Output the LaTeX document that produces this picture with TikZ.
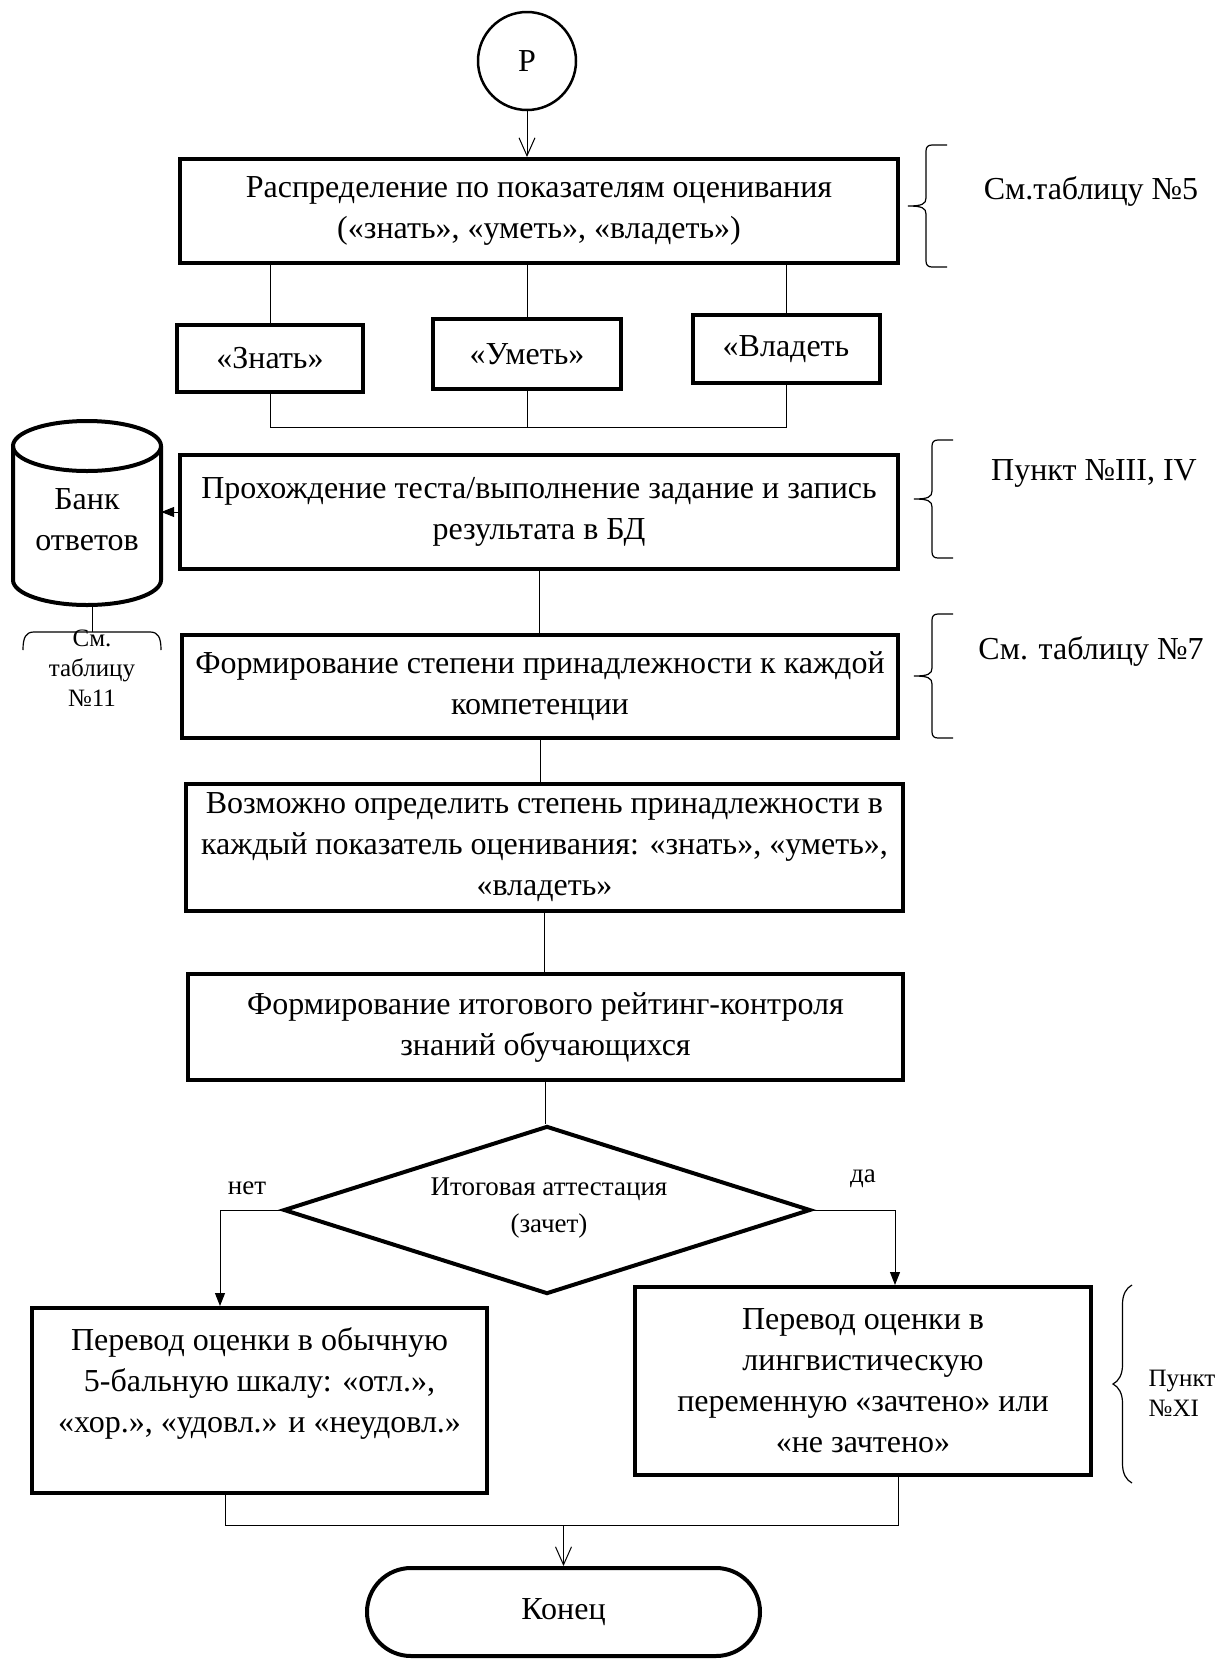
\documentclass[tikz,border=0pt]{standalone}
\usepackage{fontspec}
\setmainfont{Liberation Serif}
\usetikzlibrary{arrows.meta,shapes.geometric,shapes.misc,decorations.pathreplacing}
\newcommand\mainfs{\fontsize{32}{41}\selectfont}
\newcommand\smallfs{\fontsize{27}{37}\selectfont}
\newcommand\tinyfs{\fontsize{25}{30}\selectfont}
% hooked brace: #1 right x, #2 top y, #3 bottom y
\newcommand\hbr[3]{\pgfmathsetmacro\mY{(#2+#3)/2}%
\draw[line width=1.2pt] (#1,#2) -- (#1-15,#2) .. controls (#1-19,#2) and (#1-21,#2+2) .. (#1-21,#2+6) -- (#1-21,\mY-8) .. controls (#1-21,\mY-2) and (#1-25,\mY) .. (#1-39,\mY) .. controls (#1-25,\mY) and (#1-21,\mY+2) .. (#1-21,\mY+8) -- (#1-21,#3-6) .. controls (#1-21,#3-2) and (#1-19,#3) .. (#1-15,#3) -- (#1,#3);}
\begin{document}
\begin{tikzpicture}[x=1pt,y=-1pt,
  box/.style={draw,line width=4pt,inner sep=0pt,align=center,font=\mainfs},
  conn/.style={line width=1pt},
  openarr/.style={conn,-{Straight Barb[length=18pt,width=16pt,line width=1pt]}},
  fillarr/.style={conn,-{Triangle[length=13pt,width=10pt]}},
  brc/.style={decorate,decoration={brace,amplitude=19pt},line width=1.2pt},
  lbl/.style={font=\mainfs,inner sep=0pt}]
\useasboundingbox (0,0) rectangle (1219,1660);
% start
\node[circle,draw,line width=2.5pt,minimum size=98pt,inner sep=0pt,font=\mainfs] (p) at (527,61) {P};
% box 1
\node[box,minimum width=718pt,minimum height=104pt] (b1) at (539,211) {Распределение по показателям оценивания\\(«знать», «уметь», «владеть»)};
\draw[openarr] (p.south) -- (p.south |- b1.north);
% sub boxes
\node[box,minimum width=186pt,minimum height=67pt] (zn) at (270,358) {«Знать»};
\node[box,minimum width=188pt,minimum height=70pt] (um) at (527,354) {«Уметь»};
\node[box,minimum width=187pt,minimum height=68pt] (vl) at (786,349) {«Владеть};
\draw[conn] (b1.south -| zn.north) -- (zn.north);
\draw[conn] (b1.south -| um.north) -- (um.north);
\draw[conn] (b1.south -| vl.north) -- (vl.north);
\coordinate (jy) at (0,427);
\draw[conn] (zn.south) -- (zn.south |- jy) -- (vl.south |- jy) -- (vl.south);
\draw[conn] (um.south) -- (um.south |- jy);
% box 3
\node[box,minimum width=718pt,minimum height=114pt] (b3) at (539,512) {Прохождение теста/выполнение задание и запись\\результата в БД};
% bank (cylinder)
\node[minimum width=148pt,minimum height=184pt,inner sep=0pt] (bank) at (87,513) {};
\draw[line width=4pt] (13,446) -- (13,580) arc[start angle=180,end angle=0,x radius=74,y radius=25] -- (161,446);
\draw[line width=4pt] (87,446) ellipse[x radius=74,y radius=25];
\node[font=\mainfs,align=center,inner sep=0pt] (banktxt) at (87,520) {Банк\\ответов};
\draw[fillarr] (b3.west) -- (bank.east |- b3.west);
% bracket under bank
\draw[line width=1.2pt] (23,650) .. controls (23,637) and (26,632) .. (34,632) -- (150,632) .. controls (158,632) and (161,637) .. (161,650);
\draw[conn] ([xshift=5pt]bank.south) -- ++(0,27);
\node[font=\tinyfs,align=center,inner sep=0pt] (t11) at (92,668) {См.\\таблицу\\№11};
% box 4
\node[box,minimum width=716pt,minimum height=103pt] (b4) at (540,686) {Формирование степени принадлежности к каждой\\компетенции};
% box 5
\node[box,minimum width=717pt,minimum height=127pt] (b5) at (544.5,847.5) {Возможно определить степень принадлежности в\\каждый показатель оценивания: «знать», «уметь»,\\«владеть»};
% box 6
\node[box,minimum width=715pt,minimum height=106pt] (b6) at (545.5,1027) {Формирование итогового рейтинг-контроля\\знаний обучающихся};
\draw[conn] (b3.south) -- (b3.south |- b4.north);
\draw[conn] (b4.south) -- (b4.south |- b5.north);
\draw[conn] (b5.south) -- (b5.south |- b6.north);
% decision
\node[diamond,draw,line width=4pt,minimum width=527pt,minimum height=168pt,inner sep=0pt,aspect=3.14] (dec) at (547,1210) {};
\node[font=\smallfs,align=center,inner sep=0pt] (dectxt) at (549,1208) {Итоговая аттестация\\(зачет)};
\draw[conn] (b6.south) -- (b6.south |- dec.north);
\node[font=\smallfs,inner sep=0pt] (net) at (247,1188) {нет};
\node[font=\smallfs,inner sep=0pt] (da) at (863,1179) {да};
% results
\node[box,minimum width=455pt,minimum height=185pt] (b7) at (259.5,1400.5) {Перевод оценки в обычную\\5-бальную шкалу: «отл.»,\\«хор.», «удовл.» и «неудовл.»\\~};
\node[box,minimum width=456pt,minimum height=188pt] (b8) at (863,1381) {Перевод оценки в\\лингвистическую\\переменную «зачтено» или\\«не зачтено»};
\coordinate (nx) at (220,0);
\coordinate (yx) at (895,0);
\draw[fillarr] (dec.west) -- (dec.west -| nx) -- (nx |- b7.north);
\draw[fillarr] (dec.east) -- (dec.east -| yx) -- (yx |- b8.north);
% end
\node[rounded rectangle,draw,line width=4pt,minimum width=393pt,minimum height=88pt,inner sep=0pt,font=\mainfs] (end) at (563.5,1612) {Конец};
\coordinate (m1) at (225,1525);
\coordinate (m2) at (898,1525);
\draw[conn] (b7.south -| m1) -- (m1) -- (m2) -- (b8.south -| m2);
\draw[openarr] (end.north |- m1) -- (end.north);
% braces and notes
\hbr{947}{145}{267}
\node[lbl] (l5) at (1091,191) {См.таблицу №5};
\hbr{953}{440}{558}
\node[lbl] (l3) at (1094,473) {Пункт №III, IV};
\hbr{953}{614}{738}
\node[lbl] (l7) at (1091,651) {См. таблицу №7};
\draw[brc] (1132,1483) -- (1132,1285);
\node[font=\tinyfs,align=left,inner sep=0pt] (l11) at (1182,1393) {Пункт\\№XI};
\end{tikzpicture}
\end{document}
